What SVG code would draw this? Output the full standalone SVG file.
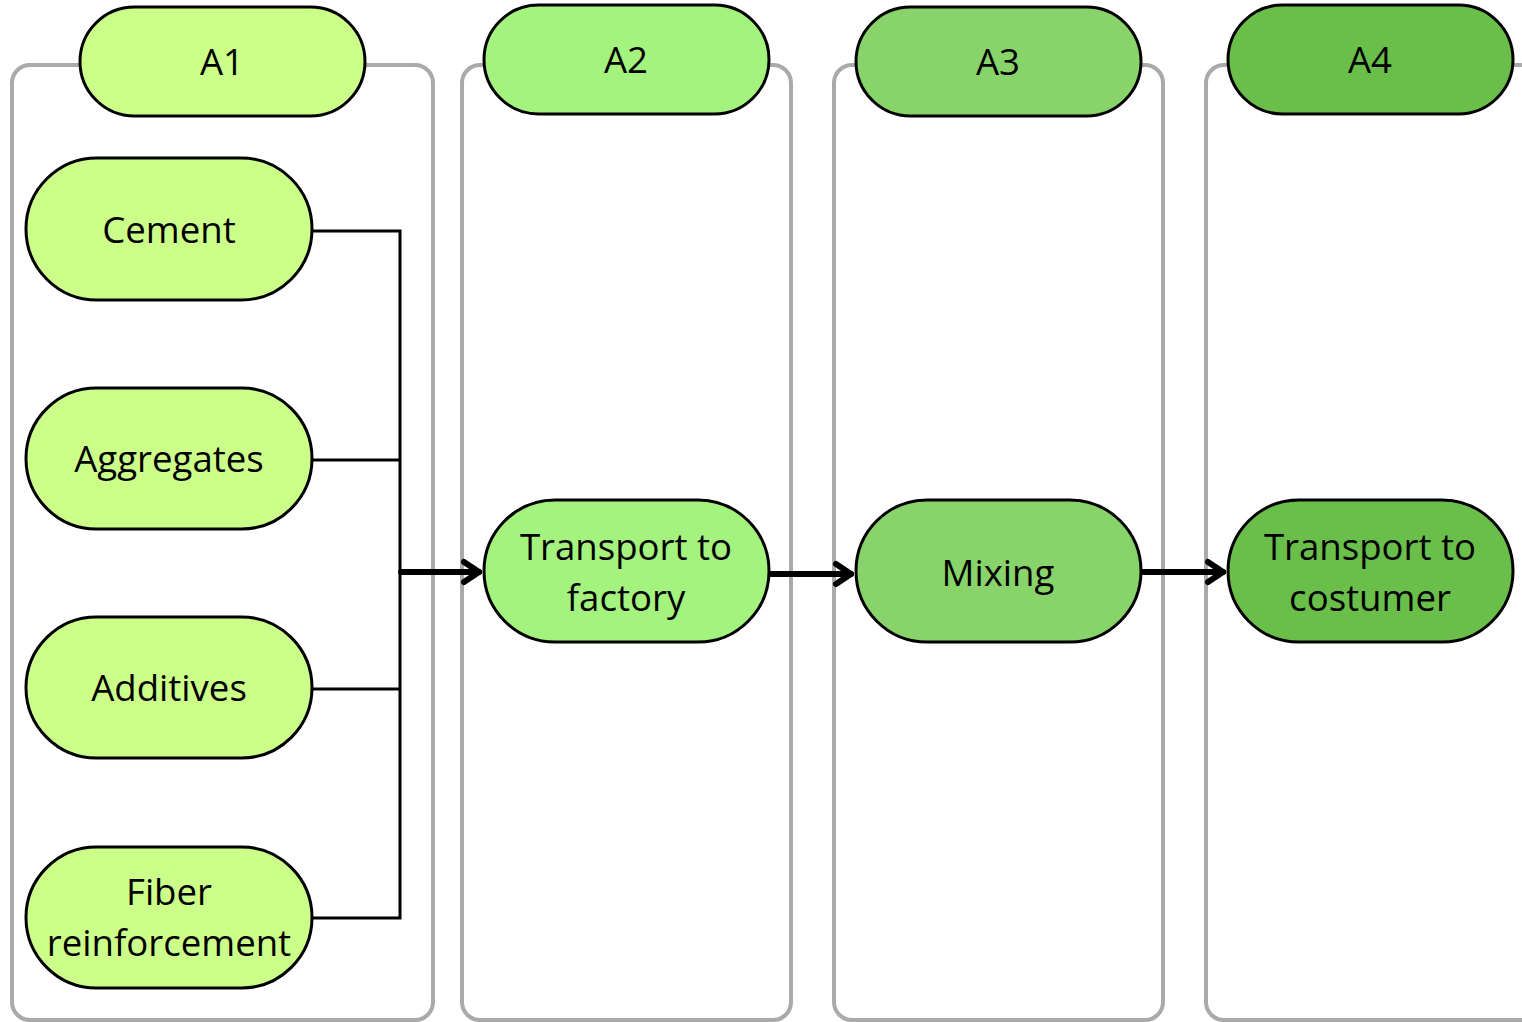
<svg xmlns="http://www.w3.org/2000/svg" width="1522" height="1022" viewBox="0 0 1522 1022">
<style>
.lane{fill:#fff;stroke:#aaaaaa;stroke-width:4}
.pill{stroke:#000;stroke-width:3}
.c1{fill:#ccff8a}.c2{fill:#a3f37e}.c3{fill:#88d46b}.c4{fill:#6abf4b}
text{font-family:"Open Sans","Noto Sans","Liberation Sans",sans-serif;font-size:36.6px;fill:#000;text-anchor:middle;dominant-baseline:central}
.ln{fill:none;stroke:#000;stroke-width:3}
.ar{fill:none;stroke:#000;stroke-width:6;stroke-linecap:round;stroke-linejoin:round}
</style>
<rect width="1522" height="1022" fill="#fff"/>
<g id="lanes">
<rect class="lane" x="12" y="65" width="421" height="955" rx="18"/>
<rect class="lane" x="462" y="65" width="329" height="955" rx="18"/>
<rect class="lane" x="834" y="65" width="329" height="955" rx="18"/>
<rect class="lane" x="1206" y="65" width="340" height="955" rx="18"/>
</g>
<g id="A1"><rect class="pill c1" x="80" y="7" width="285" height="109" rx="54.5"/><text x="222" y="61">A1</text></g>
<g id="A2"><rect class="pill c2" x="484" y="5" width="285" height="109" rx="54.5"/><text x="626" y="59">A2</text></g>
<g id="A3"><rect class="pill c3" x="856" y="7" width="285" height="109" rx="54.5"/><text x="998" y="61">A3</text></g>
<g id="A4"><rect class="pill c4" x="1228" y="5" width="285" height="109" rx="54.5"/><text x="1370" y="59">A4</text></g>
<g id="connectors">
<polyline class="ln" points="312,231 400,231 400,918 312,918"/>
<line class="ln" x1="312" y1="460" x2="400" y2="460"/>
<line class="ln" x1="312" y1="689" x2="400" y2="689"/>
<line class="ar" x1="401" y1="572" x2="479" y2="572"/>
<polyline class="ar" points="464,562 479,572 464,582"/>
<line class="ar" x1="771" y1="574" x2="851" y2="574"/>
<polyline class="ar" points="836,564 851,574 836,584"/>
<line class="ar" x1="1143" y1="572" x2="1223" y2="572"/>
<polyline class="ar" points="1208,562 1223,572 1208,582"/>
</g>
<g id="cement"><rect class="pill c1" x="26" y="158" width="286" height="142" rx="71"/><text x="169" y="229">Cement</text></g>
<g id="aggregates"><rect class="pill c1" x="26" y="388" width="286" height="141" rx="70.5"/><text x="169" y="458">Aggregates</text></g>
<g id="additives"><rect class="pill c1" x="26" y="617" width="286" height="141" rx="70.5"/><text x="169" y="687">Additives</text></g>
<g id="fiber"><rect class="pill c1" x="26" y="847" width="286" height="141" rx="70.5"/><text x="169" y="891">Fiber</text><text x="169" y="942">reinforcement</text></g>
<g id="transport-factory"><rect class="pill c2" x="484" y="500" width="285" height="142" rx="71"/><text x="626" y="546">Transport to</text><text x="626" y="597">factory</text></g>
<g id="mixing"><rect class="pill c3" x="856" y="500" width="285" height="142" rx="71"/><text x="998" y="572">Mixing</text></g>
<g id="transport-costumer"><rect class="pill c4" x="1228" y="500" width="285" height="142" rx="71"/><text x="1370" y="546">Transport to</text><text x="1370" y="597">costumer</text></g>
</svg>
